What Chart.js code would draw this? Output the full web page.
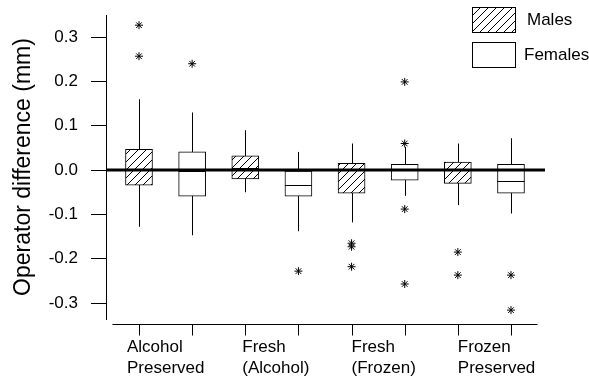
<!DOCTYPE html>
<html>
<head>
<meta charset="utf-8">
<script src="https://cdn.jsdelivr.net/npm/chart.js@4.4.1/dist/chart.umd.min.js"></script>
<style>
  body { margin: 0; background: #fff; }
  canvas { display: block; }
</style>
</head>
<body>
<canvas id="chart" width="589" height="382"></canvas>
<script>
  // Groups along the x axis (two lines each)
  const groups = [['Alcohol', 'Preserved'], ['Fresh', '(Alcohol)'], ['Fresh', '(Frozen)'], ['Frozen', 'Preserved']];

  // Males
  const maleQ1 = [-0.034, -0.020, -0.052, -0.030];
  const maleMedian = [0.000, 0.005, 0.000, 0.000];
  const maleQ3 = [0.047, 0.032, 0.015, 0.018];
  const maleLow = [-0.128, -0.050, -0.118, -0.079];
  const maleHigh = [0.160, 0.090, 0.060, 0.060];
  const maleOutliers = [[0.327, 0.257], [], [-0.165, -0.173, -0.218], [-0.185, -0.237]];

  // Females
  const femaleQ1 = [-0.059, -0.059, -0.023, -0.052];
  const femaleMedian = [-0.003, -0.034, 0.000, -0.025];
  const femaleQ3 = [0.041, -0.002, 0.013, 0.013];
  const femaleLow = [-0.147, -0.138, -0.058, -0.098];
  const femaleHigh = [0.130, 0.041, 0.052, 0.072];
  const femaleOutliers = [[0.240], [-0.228], [0.199, 0.060, -0.088, -0.257], [-0.237, -0.316]];

  const yTicks = [-0.3, -0.2, -0.1, 0.0, 0.1, 0.2, 0.3];

  const FONT = "'Liberation Sans', Arial, sans-serif";

  // box positions: males at 1,3,5,7 and females at 2,4,6,8
  const malePos = groups.map((g, i) => 2 * i + 1);
  const femalePos = groups.map((g, i) => 2 * i + 2);

  function hatch() {
    const c = document.createElement('canvas');
    c.width = 8; c.height = 8;
    const g = c.getContext('2d');
    g.fillStyle = '#fff';
    g.fillRect(0, 0, 8, 8);
    g.strokeStyle = '#000';
    g.lineWidth = 1;
    g.beginPath();
    g.moveTo(-1, 9); g.lineTo(9, -1);
    g.moveTo(-1, 1); g.lineTo(1, -1);
    g.moveTo(7, 9); g.lineTo(9, 7);
    g.stroke();
    return g.createPattern(c, 'repeat');
  }
  const hatchFill = hatch();

  function boxes(pos, q1, q3) {
    return pos.map((x, i) => ({ x: x, y: [q1[i], q3[i]] }));
  }
  function points(pos, outs) {
    const pts = [];
    outs.forEach((list, i) => list.forEach(v => pts.push({ x: pos[i], y: v })));
    return pts;
  }

  const stats = [
    { pos: malePos, low: maleLow, high: maleHigh, med: maleMedian },
    { pos: femalePos, low: femaleLow, high: femaleHigh, med: femaleMedian }
  ];

  const boxPlot = {
    id: 'boxPlot',
    beforeDatasetsDraw(chart) {
      const { ctx, scales: { x, y } } = chart;
      ctx.save();
      ctx.strokeStyle = '#000';
      ctx.lineWidth = 1;
      stats.forEach(s => s.pos.forEach((p, i) => {
        const px = Math.round(x.getPixelForValue(p)) + 0.5;
        ctx.beginPath();
        ctx.moveTo(px, y.getPixelForValue(s.low[i]));
        ctx.lineTo(px, y.getPixelForValue(s.high[i]));
        ctx.stroke();
      }));
      ctx.restore();
    },
    afterDatasetsDraw(chart) {
      const { ctx, chartArea, scales: { x, y } } = chart;
      ctx.save();
      ctx.strokeStyle = '#000';
      ctx.lineWidth = 1;
      stats.forEach(s => s.pos.forEach((p, i) => {
        const px = x.getPixelForValue(p);
        const py = Math.round(y.getPixelForValue(s.med[i])) + 0.5;
        ctx.beginPath();
        ctx.moveTo(px - 13.5, py);
        ctx.lineTo(px + 13.5, py);
        ctx.stroke();
      }));
      // zero reference line
      const zy = y.getPixelForValue(0);
      ctx.lineWidth = 3;
      ctx.beginPath();
      ctx.moveTo(chartArea.left, zy);
      ctx.lineTo(chartArea.right, zy);
      ctx.stroke();
      ctx.restore();
    },
    afterDraw(chart) {
      const { ctx, chartArea, scales: { x } } = chart;
      ctx.save();
      ctx.strokeStyle = '#000';
      ctx.fillStyle = '#000';
      ctx.lineWidth = 1;
      // x axis line and ticks
      const ay = chartArea.bottom + 5.5;
      ctx.beginPath();
      ctx.moveTo(x.getPixelForValue(0.5), ay);
      ctx.lineTo(x.getPixelForValue(8.5), ay);
      malePos.concat(femalePos).forEach(p => {
        const px = Math.round(x.getPixelForValue(p)) + 0.5;
        ctx.moveTo(px, ay);
        ctx.lineTo(px, ay + 11);
      });
      ctx.stroke();
      // group labels
      ctx.font = '17px ' + FONT;
      ctx.textAlign = 'left';
      ctx.textBaseline = 'alphabetic';
      const shift = [-12, -3, 0, 0];
      groups.forEach((lines, i) => {
        const lx = x.getPixelForValue(malePos[i]) + shift[i];
        lines.forEach((t, j) => ctx.fillText(t, lx, chartArea.bottom + 33 + j * 21));
      });
      // legend
      const items = [[hatchFill, 'Males', 7, 527], ['#fff', 'Females', 42, 524]];
      items.forEach(([fill, label, top, tx]) => {
        ctx.fillStyle = fill;
        ctx.fillRect(472, top, 43, 25);
        ctx.strokeRect(472.5, top + 0.5, 43, 25);
        ctx.fillStyle = '#000';
        ctx.textBaseline = 'middle';
        ctx.fillText(label, tx, top + 13);
      });
      ctx.restore();
    }
  };

  new Chart(document.getElementById('chart'), {
    type: 'bar',
    data: {
      datasets: [
        {
          label: 'Males',
          data: boxes(malePos, maleQ1, maleQ3),
          backgroundColor: hatchFill,
          borderColor: '#000',
          borderWidth: 1,
          borderSkipped: false,
          barThickness: 27,
          grouped: false
        },
        {
          label: 'Females',
          data: boxes(femalePos, femaleQ1, femaleQ3),
          backgroundColor: '#fff',
          borderColor: '#000',
          borderWidth: 1,
          borderSkipped: false,
          barThickness: 27,
          grouped: false
        },
        {
          type: 'scatter',
          label: 'Male outliers',
          data: points(malePos, maleOutliers),
          pointStyle: 'star',
          radius: 4,
          borderColor: '#000',
          borderWidth: 1
        },
        {
          type: 'scatter',
          label: 'Female outliers',
          data: points(femalePos, femaleOutliers),
          pointStyle: 'star',
          radius: 4,
          borderColor: '#000',
          borderWidth: 1
        }
      ]
    },
    options: {
      responsive: false,
      animation: false,
      layout: { padding: { left: 0, right: 44, top: 15, bottom: 63 } },
      plugins: { legend: { display: false }, tooltip: { enabled: false } },
      scales: {
        x: { type: 'linear', min: 0.379, max: 8.64, offset: false, display: false },
        y: {
          min: -0.336,
          max: 0.35,
          afterFit(scale) {
            scale.width = 106;
            scale.paddingTop = 0;
            scale.paddingBottom = 0;
          },
          afterBuildTicks(scale) { scale.ticks = yTicks.map(v => ({ value: v })); },
          ticks: {
            callback: v => v.toFixed(1),
            font: { family: FONT, size: 17 },
            color: '#000',
            padding: 13
          },
          grid: { drawOnChartArea: false, tickLength: 15, color: '#000' },
          border: { color: '#000', width: 1 },
          title: {
            display: true,
            text: 'Operator difference (mm)',
            font: { family: FONT, size: 23 },
            color: '#000',
            padding: { top: 10, bottom: 0 }
          }
        }
      }
    },
    plugins: [boxPlot]
  });
</script>
</body>
</html>
